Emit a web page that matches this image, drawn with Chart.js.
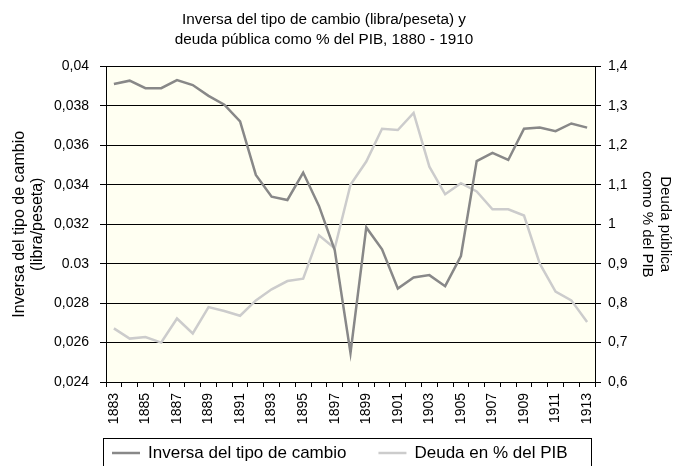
<!DOCTYPE html>
<html><head><meta charset="utf-8">
<script src="https://cdn.jsdelivr.net/npm/chart.js@4.4.1/dist/chart.umd.min.js"></script>
<style>html,body{margin:0;padding:0;background:#fff;} #wrap{width:674px;height:466px;position:relative;}</style>
</head><body><div id="wrap"><canvas id="c" width="674" height="466"></canvas></div>
<script>
const years = [1883,1884,1885,1886,1887,1888,1889,1890,1891,1892,1893,1894,1895,1896,1897,1898,1899,1900,1901,1902,1903,1904,1905,1906,1907,1908,1909,1910,1911,1912,1913];
const tickYears = [1883,1885,1887,1889,1891,1893,1895,1897,1899,1901,1903,1905,1907,1909,1911,1913];
const inversaTipoCambio = [0.03911,0.03928,0.03890,0.03890,0.03931,0.03906,0.03851,0.03806,0.03721,0.03450,0.03340,0.03323,0.03462,0.03293,0.03069,0.02547,0.03184,0.03073,0.02874,0.02930,0.02942,0.02886,0.03039,0.03520,0.03562,0.03526,0.03684,0.03690,0.03672,0.03711,0.03690];
const deudaPIB = [0.736,0.710,0.714,0.700,0.761,0.723,0.790,0.780,0.768,0.807,0.835,0.856,0.862,0.972,0.939,1.100,1.159,1.242,1.239,1.282,1.146,1.076,1.104,1.083,1.038,1.038,1.022,0.900,0.829,0.807,0.752];
const leftTickValues = [0.024,0.026,0.028,0.030,0.032,0.034,0.036,0.038,0.040];
const leftTickLabels = ['0,024','0,026','0,028','0.03','0,032','0,034','0,036','0,038','0,04'];
const rightTickValues = [0.6,0.7,0.8,0.9,1.0,1.1,1.2,1.3,1.4];
const rightTickLabels = ['0,6','0,7','0,8','0,9','1','1,1','1,2','1,3','1,4'];
const seriesNames = ['Inversa del tipo de cambio','Deuda en % del PIB'];

const FONT = "'Liberation Sans', Arial, Helvetica, sans-serif";

const bgPlugin = {
  id: 'bg',
  beforeDraw(chart) {
    const {ctx, chartArea: a} = chart;
    ctx.save();
    ctx.fillStyle = '#ffffff';
    ctx.fillRect(0, 0, chart.width, chart.height);
    ctx.fillStyle = '#FFFFF2';
    ctx.fillRect(a.left, a.top, a.right - a.left, a.bottom - a.top);
    ctx.restore();
  }
};

const legendPlugin = {
  id: 'boxLegend',
  afterDraw(chart) {
    const {ctx, chartArea: a} = chart;
    const bx = Math.round(a.left - 3), br = Math.round(a.right - 4);
    const by = Math.round(a.bottom + 56);
    ctx.save();
    ctx.strokeStyle = '#000';
    ctx.lineWidth = 1;
    ctx.strokeRect(bx + 0.5, by + 0.5, br - bx, 40);
    ctx.font = '17px ' + FONT;
    ctx.textBaseline = 'middle';
    ctx.textAlign = 'left';
    let x = bx + 9;
    const y = by + 15;
    chart.data.datasets.forEach(ds => {
      ctx.strokeStyle = ds.borderColor;
      ctx.lineWidth = ds.borderWidth;
      ctx.beginPath();
      ctx.moveTo(x, y);
      ctx.lineTo(x + 28, y);
      ctx.stroke();
      ctx.fillStyle = '#000';
      ctx.fillText(ds.label, x + 36, y);
      x += 36 + ctx.measureText(ds.label).width + 32;
    });
    ctx.restore();
  }
};

new Chart(document.getElementById('c'), {
  type: 'line',
  data: {
    labels: years,
    datasets: [
      { label: seriesNames[0], data: inversaTipoCambio, yAxisID: 'y', borderColor: '#888888', backgroundColor: '#888888', borderWidth: 2.5, pointRadius: 0, tension: 0, fill: false },
      { label: seriesNames[1], data: deudaPIB, yAxisID: 'y1', borderColor: '#CCCCCC', backgroundColor: '#CCCCCC', borderWidth: 2.5, pointRadius: 0, tension: 0, fill: false }
    ]
  },
  options: {
    responsive: false,
    animation: false,
    devicePixelRatio: 1,
    layout: { padding: { left: 0, right: 26, top: 0, bottom: 34 } },
    plugins: {
      legend: { display: false },
      tooltip: { enabled: false },
      title: {
        display: true,
        text: ['Inversa del tipo de cambio (libra/peseta) y', 'deuda pública como % del PIB, 1880 - 1910'],
        color: '#000',
        font: { family: FONT, size: 15.3, weight: 'normal', lineHeight: 1.3 },
        padding: { top: 10, bottom: 16.7 }
      }
    },
    scales: {
      x: {
        type: 'category',
        offset: true,
        grid: { offset: true, drawOnChartArea: false, drawTicks: true, tickLength: 5, color: '#000', tickColor: '#000', lineWidth: 1 },
        border: { display: true, color: '#000', width: 1 },
        ticks: {
          autoSkip: false, maxRotation: 90, minRotation: 90, padding: 6, color: '#000',
          font: { family: FONT, size: 14 },
          callback: function (v) { const yr = this.getLabelForValue(v); return tickYears.includes(Number(yr)) ? String(yr) : ''; }
        },
        afterFit(s) { s.height = 50; }
      },
      y: {
        position: 'left',
        min: 0.024, max: 0.04,
        afterBuildTicks(s) { s.ticks = leftTickValues.map(v => ({ value: v })); },
        ticks: { padding: 11, color: '#000', font: { family: FONT, size: 14 }, callback: (v, i) => leftTickLabels[i] },
        grid: { color: '#000', lineWidth: 1, drawTicks: true, tickLength: 6, tickColor: '#000' },
        border: { display: true, color: '#000', width: 1 },
        title: { display: true, text: ['Inversa del tipo de cambio', '(libra/peseta)'], color: '#000', font: { family: FONT, size: 16, lineHeight: 1.125 }, padding: { top: 11, bottom: 0 } },
        afterFit(s) { s.width = 106; }
      },
      y1: {
        position: 'right',
        min: 0.6, max: 1.4,
        afterBuildTicks(s) { s.ticks = rightTickValues.map(v => ({ value: v })); },
        ticks: { padding: 7, color: '#000', font: { family: FONT, size: 14 }, callback: (v, i) => rightTickLabels[i] },
        grid: { drawOnChartArea: false, drawTicks: true, tickLength: 6, color: '#000', tickColor: '#000' },
        border: { display: true, color: '#000', width: 1 },
        title: { display: true, text: ['Deuda pública', 'como % del PIB'], color: '#000', font: { family: FONT, size: 15, lineHeight: 1.2 }, padding: { top: -26, bottom: 0 } },
        afterFit(s) { s.width = 53; }
      }
    }
  },
  plugins: [bgPlugin, legendPlugin]
});
</script></body></html>
